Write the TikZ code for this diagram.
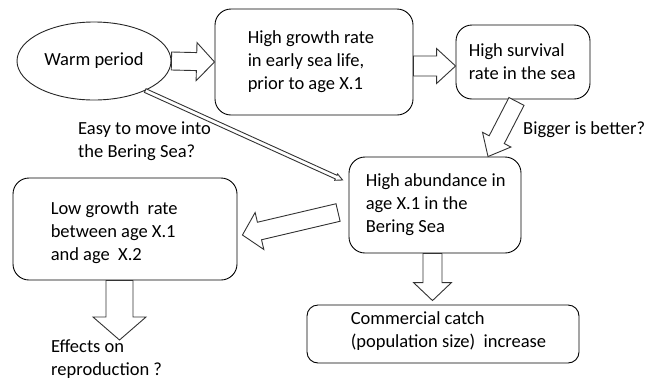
\documentclass[tikz,border=0pt]{standalone}
\usepackage{fontspec}
\setmainfont{Carlito}
\usetikzlibrary{shapes.geometric,calc}
\tikzset{
  box/.style={draw=black, line width=0.9pt, rounded corners=16pt, fill=white, inner sep=0pt},
  oval/.style={ellipse, draw=black!85, line width=0.9pt, fill=white, inner sep=0pt, font=\fontsize{18.5pt}{23pt}\selectfont},
  txt/.style={inner sep=0pt, align=left, anchor=west, font=\fontsize{18.5pt}{23pt}\selectfont},
  fat/.style={draw=black!80, line width=0.9pt, fill=white, line join=miter},
}
\newcommand\fatarrow[5]{%
  \coordinate (faS) at (#1);
  \coordinate (faE) at (#2);
  \coordinate (faH) at ($(faE)!#5!(faS)$);
  \draw[fat] ($(faS)!#3!90:(faE)$) -- ($(faH)!#3!-90:(faS)$) -- ($(faH)!#4!-90:(faS)$)
    -- (faE) -- ($(faH)!#4!90:(faS)$) -- ($(faH)!#3!90:(faS)$) -- ($(faS)!#3!-90:(faE)$) -- cycle;
}
\begin{document}
\begin{tikzpicture}[x=1pt,y=-1pt]
\useasboundingbox[fill=white] (0,0) rectangle (658,381);
% shapes
\node[oval, minimum width=154pt, minimum height=78pt] (warm) at (94,61) {Warm period};
\node[box, minimum width=198pt, minimum height=106pt] (b1) at (314,62) {};
\node[box, minimum width=134pt, minimum height=74pt] (b2) at (523,62) {};
\node[box, minimum width=172pt, minimum height=96pt] (b3) at (435,205) {};
\node[box, minimum width=224pt, minimum height=102pt] (b4) at (125,229) {};
\node[box, rounded corners=11pt, minimum width=272pt, minimum height=58pt] (b5) at (443,334) {};
% texts
\node[txt] (t1) at ([xshift=33pt]b1.west) {High growth rate\\in early sea life,\\prior to age X.1};
\node[txt] (t2) at ([xshift=13pt]b2.west) {High survival\\rate in the sea};
\node[txt] (t3) at ([xshift=17pt]b3.west) {High abundance in\\age X.1 in the\\Bering Sea};
\node[txt] (t4) at ([shift={(38,4)}]b4.west) {Low growth\ \ rate\\between age X.1\\and age\ \ X.2};
\node[txt] (t5) at ([shift={(44,-2.5)}]b5.west) {Commercial catch\\(population size)\ \ increase};
\node[txt] (easy) at (78,141) {Easy to move into\\the Bering Sea?};
\node[txt] (bigger) at (523,130) {Bigger is better?};
\node[txt] (effects) at (51,359) {Effects on\\reproduction ?};
\coordinate (effE) at (119.5,340);
% arrows
\fatarrow{warm.east}{b1.west}{9pt}{19pt}{18pt}
\fatarrow{[yshift=-4pt]b1.east}{[yshift=-4pt]b2.west}{10pt}{17.5pt}{19pt}
\fatarrow{[shift={(-6.5,2)}]b2.south}{[xshift=53pt]b3.north}{8.5pt}{16pt}{19pt}
\fatarrow{[shift={(-10.5,7.5)}]b3.west}{[shift={(5,6)}]b4.east}{9pt}{19pt}{17.5pt}
\fatarrow{[xshift=-2.5pt]b3.south}{[shift={(-10.5,-4)}]b5.north}{9.5pt}{19pt}{18pt}
\fatarrow{[xshift=-5.5pt]b4.south}{effE}{13.5pt}{26.5pt}{23pt}
\fatarrow{warm.-30}{[shift={(-6,-25)}]b3.west}{2pt}{3.5pt}{7pt}
\end{tikzpicture}
\end{document}
